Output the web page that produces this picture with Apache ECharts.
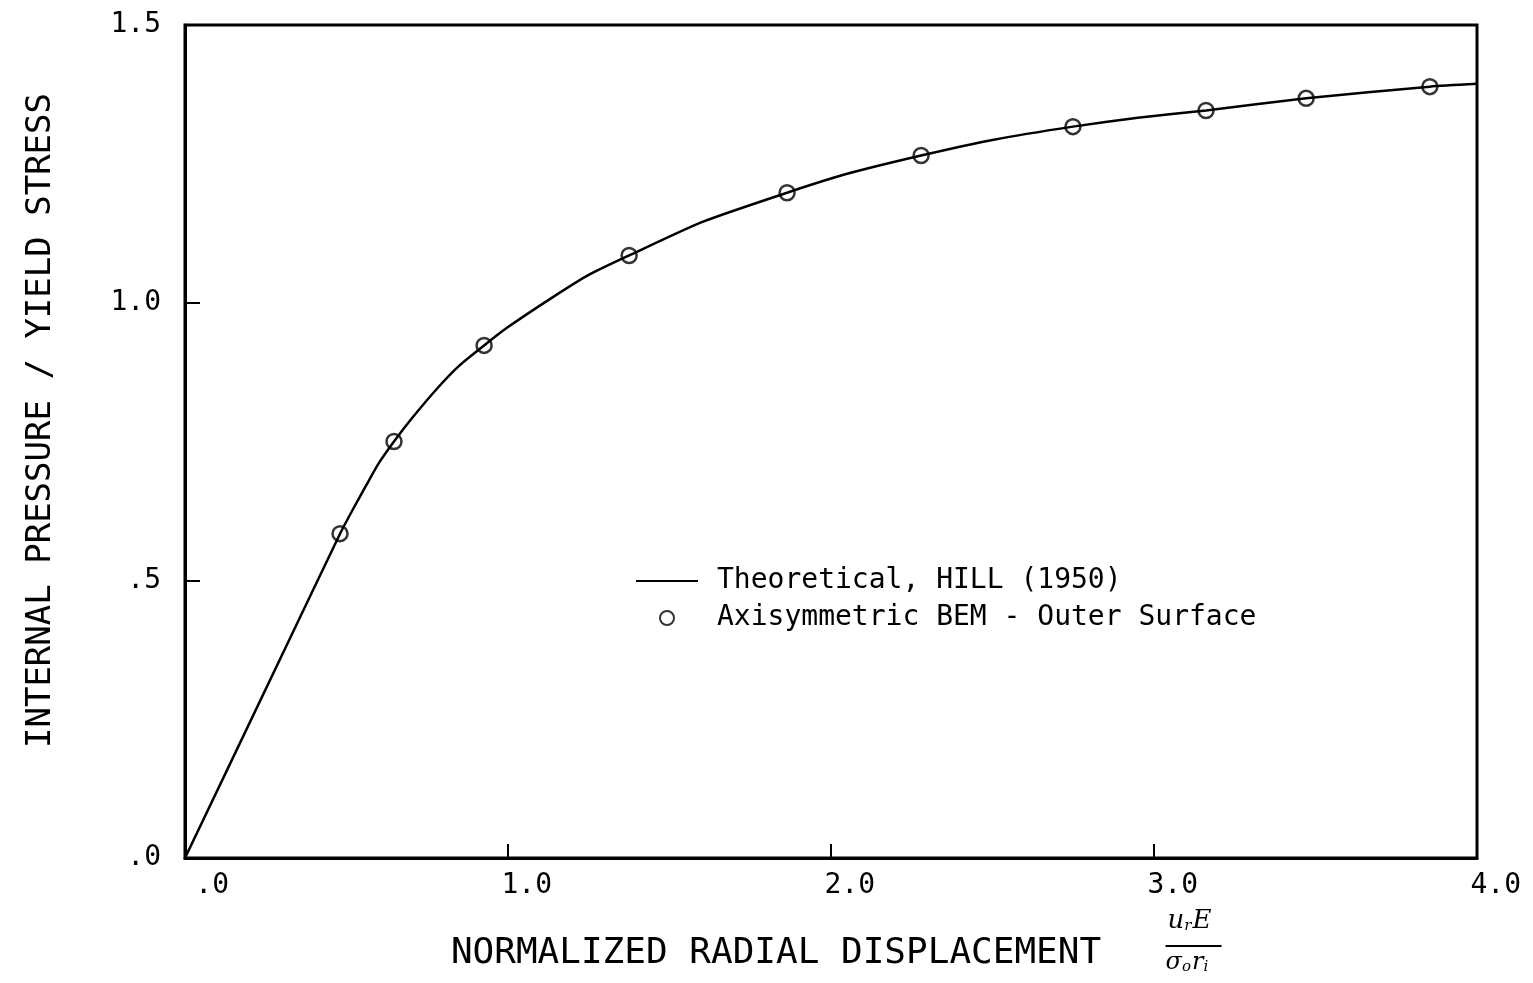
<!DOCTYPE html>
<html>
<head>
<meta charset="utf-8">
<title>Internal pressure vs radial displacement</title>
<script src="https://cdn.jsdelivr.net/npm/echarts@6/dist/echarts.min.js"></script>
<style>
    html, body { margin: 0; padding: 0; background: #fff; }
    #chart { width: 1533px; height: 983px; }
</style>
</head>
<body>
<div id="chart"></div>
<script>
// theoretical curve, Hill (1950)
var hillX = [0, 0.3, 0.48, 0.52, 0.56, 0.6, 0.647, 0.7, 0.78, 0.85, 0.926, 1.0, 1.139, 1.25, 1.375, 1.6, 1.864, 2.05, 2.279, 2.5, 2.749, 2.95, 3.161, 3.471, 3.854, 4.0];
var hillY = [0, 0.365, 0.584, 0.628, 0.670, 0.711, 0.750, 0.790, 0.845, 0.887, 0.923, 0.956, 1.010, 1.050, 1.085, 1.145, 1.198, 1.232, 1.265, 1.293, 1.317, 1.333, 1.346, 1.368, 1.389, 1.394];

// axisymmetric BEM, outer surface
var bemX = [0.480, 0.647, 0.926, 1.375, 1.864, 2.279, 2.749, 3.161, 3.471, 3.854];
var bemY = [0.584, 0.750, 0.923, 1.085, 1.198, 1.265, 1.317, 1.346, 1.368, 1.389];

var xTickLabels = {0: '.0', 1: '1.0', 2: '2.0', 3: '3.0', 4: '4.0'};
var yTickLabels = {0: '.0', 0.5: '.5', 1: '1.0', 1.5: '1.5'};

var seriesNames = ['Theoretical, HILL (1950)', 'Axisymmetric BEM - Outer Surface'];

function pairs(xs, ys) {
    var out = [];
    for (var i = 0; i < xs.length; i++) {
        out.push([xs[i], ys[i]]);
    }
    return out;
}

var mono = 'DejaVu Sans Mono';
var chart = echarts.init(document.getElementById('chart'));

var option = {
    backgroundColor: '#fff',
    animation: false,
    grid: {
        left: 185,
        right: 56,
        top: 25,
        bottom: 125,
        show: true,
        borderColor: '#000',
        borderWidth: 3,
        backgroundColor: 'transparent'
    },
    legend: {
        orient: 'vertical',
        left: 630,
        top: 562,
        itemWidth: 62,
        itemHeight: 14,
        itemGap: 9,
        selectedMode: false,
        textStyle: {
            fontFamily: mono,
            fontSize: 28,
            color: '#000',
            padding: [0, 0, 0, 14]
        },
        data: [
            {name: seriesNames[0], itemStyle: {opacity: 0}},
            {name: seriesNames[1]}
        ]
    },
    xAxis: {
        type: 'value',
        min: 0,
        max: 4,
        interval: 1,
        name: 'NORMALIZED RADIAL DISPLACEMENT',
        nameLocation: 'middle',
        nameGap: 78,
        nameTextStyle: {
            fontFamily: mono,
            fontSize: 36,
            color: '#000',
            padding: [0, 110, 0, 0]
        },
        axisLine: { lineStyle: { color: '#000', width: 3 } },
        axisTick: {
            inside: true,
            length: 14,
            lineStyle: { color: '#000', width: 2 }
        },
        axisLabel: {
            margin: 14,
            align: 'right',
            padding: [0, -44, 0, 0],
            fontFamily: mono,
            fontSize: 28,
            color: '#000',
            formatter: function (v) { return xTickLabels[v]; }
        },
        splitLine: { show: false }
    },
    yAxis: {
        type: 'value',
        min: 0,
        max: 1.5,
        interval: 0.5,
        name: 'INTERNAL PRESSURE / YIELD STRESS',
        nameLocation: 'middle',
        nameGap: 127,
        nameTextStyle: {
            fontFamily: mono,
            fontSize: 34,
            color: '#000',
            padding: [0, 0, 0, 42]
        },
        axisLine: { lineStyle: { color: '#000', width: 3 } },
        axisTick: {
            inside: true,
            length: 15,
            lineStyle: { color: '#000', width: 2 }
        },
        axisLabel: {
            margin: 24,
            fontFamily: mono,
            fontSize: 28,
            color: '#000',
            formatter: function (v) { return yTickLabels[v]; }
        },
        splitLine: { show: false }
    },
    graphic: [{
        type: 'group',
        left: 1163,
        top: 908,
        children: [{
            type: 'text',
            x: 0,
            y: 0,
            style: {
                text: '{v|u}{s|r}{v|E}',
                rich: {
                    v: { font: 'italic 26px "DejaVu Serif"', fill: '#000' },
                    s: { font: 'italic 15px "DejaVu Serif"', fill: '#000', padding: [10, 1, 0, 0] }
                }
            }
        }, {
            type: 'line',
            shape: { x1: -2, y1: 38, x2: 54, y2: 38 },
            style: { stroke: '#000', lineWidth: 2 }
        }, {
            type: 'text',
            x: -2,
            y: 42,
            style: {
                text: '{v|σ}{s|o}{v|r}{s|i}',
                rich: {
                    v: { font: 'italic 24px "DejaVu Serif"', fill: '#000' },
                    s: { font: 'italic 15px "DejaVu Serif"', fill: '#000', padding: [10, 1, 0, 0] }
                }
            }
        }]
    }],
    series: [{
        name: seriesNames[0],
        type: 'line',
        smooth: 0.2,
        symbol: 'none',
        lineStyle: { color: '#000', width: 2.5 },
        itemStyle: { color: '#000' },
        data: pairs(hillX, hillY),
        z: 2
    }, {
        name: seriesNames[1],
        type: 'scatter',
        symbol: 'circle',
        symbolSize: 15,
        itemStyle: {
            color: 'rgba(255,255,255,0)',
            borderColor: '#000',
            borderWidth: 2.5
        },
        data: pairs(bemX, bemY),
        z: 3
    }]
};
chart.setOption(option);
</script>
</body>
</html>
